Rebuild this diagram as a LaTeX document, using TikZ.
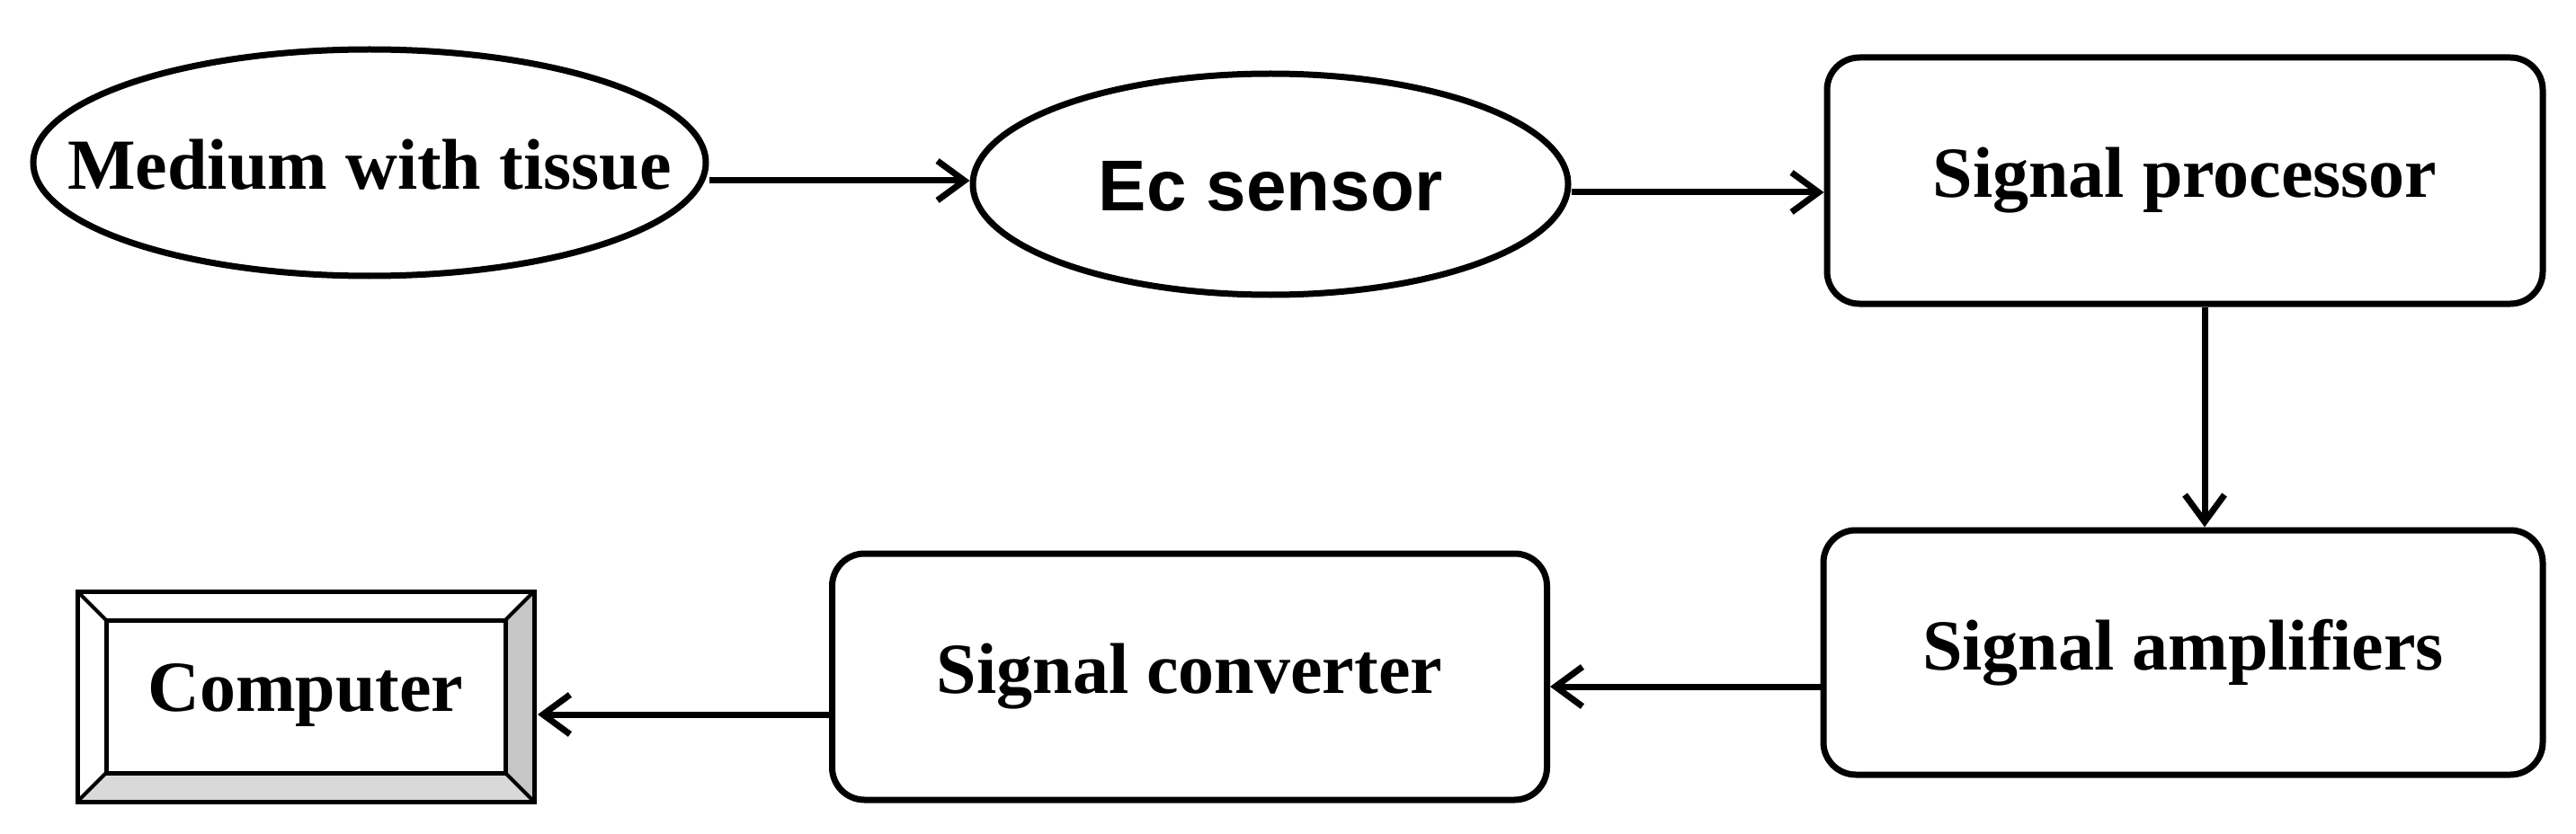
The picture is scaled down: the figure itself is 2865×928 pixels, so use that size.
\documentclass[tikz,border=0pt]{standalone}
\usepackage{fontspec}
\setmainfont{Liberation Serif}
\newfontfamily\arialf{Liberation Sans}
\usetikzlibrary{arrows.meta,shapes.geometric}
\begin{document}
\begin{tikzpicture}[x=1pt,y=-1pt,
  lw/.style={line width=7pt},
  el/.style={lw,draw,ellipse,inner sep=0pt,text width=1pt,align=center},
  rb/.style={lw,draw,rounded corners=36pt,inner sep=0pt},
  ar/.style={lw,-{Straight Barb[length=30pt,width=44pt,line width=7pt]}},
  txt/.style={font=\fontsize{80}{90}\selectfont\bfseries}]
\useasboundingbox (0,0) rectangle (2865,928);
\node[el,minimum width=748pt,minimum height=252pt] (med) at (411,181) {};
\node[txt] (medt) at (411,183) {Medium with tissue};
\node[el,minimum width=662pt,minimum height=246pt] (ec) at (1413,205) {};
\node[font=\arialf\fontsize{80}{90}\selectfont\bfseries] (ect) at (1413,207) {Ec sensor};
\node[rb,minimum width=796pt,minimum height=274pt,txt] (sp) at (2430,201) {Signal processor};
\node[rb,minimum width=800pt,minimum height=272pt,txt] (sa) at (2428,726) {Signal amplifiers};
\node[rb,minimum width=795pt,minimum height=274pt,txt] (sc) at (1323,753) {Signal converter};
% computer bevel box
\fill[gray!45] (562,690) -- (594,658) -- (594,892) -- (562,860) -- cycle;
\fill[gray!30] (118,860) -- (562,860) -- (594,892) -- (86,892) -- cycle;
\draw[line width=5pt] (86,658) rectangle (594,892);
\draw[line width=5pt] (118,690) rectangle (562,860);
\draw[line width=4pt] (86,658) -- (118,690) (594,658) -- (562,690) (86,892) -- (118,860) (594,892) -- (562,860);
\node[txt,inner sep=0pt] (comp) at (340,774) {Computer};
\coordinate (compR) at (598,795);
\draw[ar] (med.east |- 0,201) -- (ec.west |- 0,201);
\draw[ar] (ec.east |- 0,214) -- (sp.west |- 0,214);
\draw[ar] (2452,0 |- sp.south) -- (2452,0 |- sa.north);
\draw[ar] (sa.west |- 0,764) -- (sc.east |- 0,764);
\draw[ar] (sc.west |- 0,795) -- (compR);
\end{tikzpicture}
\end{document}
